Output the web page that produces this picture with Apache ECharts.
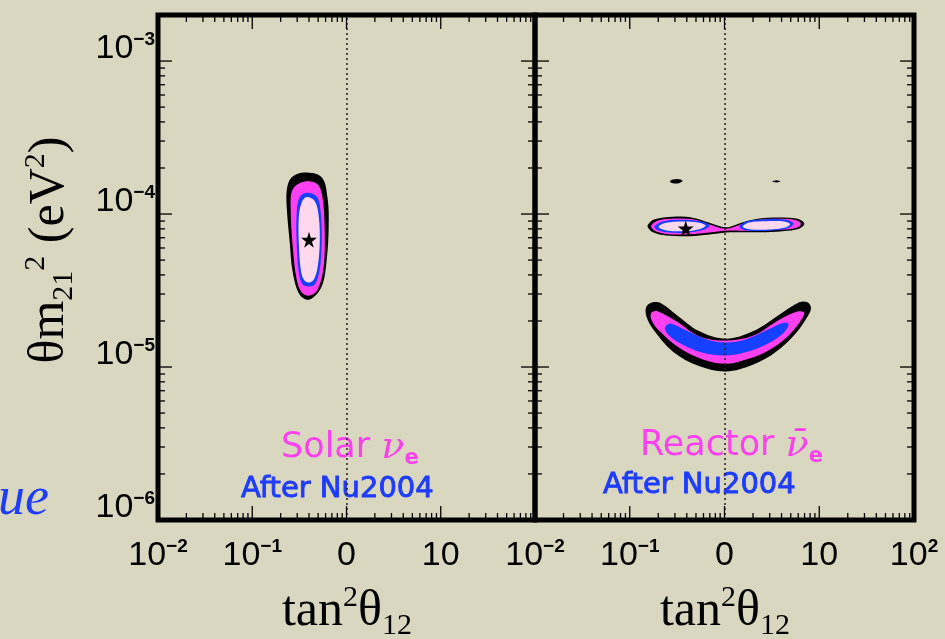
<!DOCTYPE html>
<html><head><meta charset="utf-8">
<script src="https://cdn.jsdelivr.net/npm/echarts@6/dist/echarts.min.js"></script>
<style>html,body{margin:0;padding:0;background:#d9d7c0;}#c{width:945px;height:639px;}</style>
</head><body><div id="c"></div>
<script>
// ---------- axis ranges & tick labels ----------
const X_MIN = 0.01, X_MAX = 100, Y_MIN = 1e-6, Y_MAX = 2e-3;
const xDecades = [0.01, 0.1, 1, 10, 100];
const yDecades = [1e-6, 1e-5, 1e-4, 1e-3];
const xTickLabels = ['{b|10}{s|−2}', '{b|10}{s|−1}', '{b|0}', '{b|10}', '{b|10}{s|2}'];
const yTickLabels = ['{b|10}{s|−6}', '{b|10}{s|−5}', '{b|10}{s|−4}', '{b|10}{s|−3}'];
const minorMultipliers = [2, 3, 4, 5, 6, 7, 8, 9];

// ---------- Solar panel contours [tan^2, dm^2] ----------
const solarBlack = [[0.361,1.87e-4],[0.546,1.74e-4],[0.632,1.25e-4],[0.647,8.3e-5],[0.617,5.05e-5],[0.546,3.36e-5],[0.407,2.76e-5],[0.319,2.97e-5],[0.269,4.15e-5],[0.250,6.5e-5],[0.233,1.07e-4],[0.233,1.45e-4],[0.262,1.74e-4]];
const solarMagenta = [[0.361,1.63e-4],[0.495,1.56e-4],[0.560,1.25e-4],[0.587,7.6e-5],[0.573,4.54e-5],[0.495,3.21e-5],[0.407,2.93e-5],[0.335,3.07e-5],[0.296,3.73e-5],[0.269,6.1e-5],[0.256,1.07e-4],[0.269,1.45e-4]];
const solarBlue = [[0.378,1.38e-4],[0.483,1.30e-4],[0.533,1.02e-4],[0.546,6.5e-5],[0.520,4.34e-5],[0.461,3.46e-5],[0.398,3.36e-5],[0.343,3.46e-5],[0.312,4.15e-5],[0.296,6.5e-5],[0.296,1.02e-4],[0.319,1.29e-4]];
const solarPink = [[0.378,1.29e-4],[0.461,1.21e-4],[0.508,9.6e-5],[0.520,6.5e-5],[0.495,4.54e-5],[0.450,3.73e-5],[0.398,3.56e-5],[0.352,3.73e-5],[0.327,4.34e-5],[0.312,6.5e-5],[0.312,9.6e-5],[0.335,1.19e-4]];
const solarBest = [[0.40, 6.8e-5]];

// ---------- Reactor panel contours ----------
const reactorIslandL = [[0.264,1.63e-4],[0.285,1.68e-4],[0.33,1.69e-4],[0.361,1.65e-4],[0.33,1.59e-4],[0.285,1.59e-4]];
const reactorIslandR = [[3.20,1.63e-4],[3.53,1.66e-4],[3.88,1.63e-4],[3.53,1.61e-4]];
const reactorEightBlack = [[0.156,8.55e-5],[0.183,9.23e-5],[0.286,9.6e-5],[0.463,9.46e-5],[0.695,8.77e-5],[1.04,8.2e-5],[1.56,8.85e-5],[2.34,9.35e-5],[3.79,9.5e-5],[5.91,9.3e-5],[6.95,8.67e-5],[6.15,8.02e-5],[4.11,7.73e-5],[2.34,7.6e-5],[1.44,7.6e-5],[1.04,7.57e-5],[0.695,7.34e-5],[0.429,7.16e-5],[0.243,7.23e-5],[0.176,7.6e-5],[0.156,8.13e-5]];
const reactorEightMagenta = [[0.169,8.45e-5],[0.199,9.08e-5],[0.298,9.35e-5],[0.463,9.23e-5],[0.695,8.55e-5],[1.04,8.02e-5],[1.56,8.63e-5],[2.34,9.18e-5],[3.79,9.3e-5],[5.69,9.12e-5],[6.42,8.63e-5],[5.77,8.13e-5],[3.95,7.88e-5],[2.34,7.78e-5],[1.44,7.78e-5],[1.04,7.78e-5],[0.695,7.57e-5],[0.429,7.38e-5],[0.243,7.41e-5],[0.183,7.78e-5],[0.169,8.2e-5]];
const reactorEightBlueL = [[0.183,8.34e-5],[0.224,8.95e-5],[0.336,9.18e-5],[0.546,8.97e-5],[0.695,8.45e-5],[0.591,7.85e-5],[0.395,7.55e-5],[0.243,7.6e-5],[0.191,7.93e-5]];
const reactorEightPinkL = [[0.203,8.34e-5],[0.243,8.77e-5],[0.350,8.95e-5],[0.524,8.81e-5],[0.631,8.41e-5],[0.546,7.96e-5],[0.379,7.73e-5],[0.253,7.78e-5],[0.207,8.06e-5]];
const reactorEightBlueR = [[1.44,8.34e-5],[1.69,8.95e-5],[2.75,9.23e-5],[4.46,9.18e-5],[5.33,8.67e-5],[4.64,8.06e-5],[2.98,7.78e-5],[1.83,7.78e-5],[1.50,8.02e-5]];
const reactorEightPinkR = [[1.56,8.34e-5],[1.83,8.81e-5],[2.75,8.97e-5],[4.28,8.95e-5],[4.92,8.59e-5],[4.39,8.17e-5],[2.98,7.93e-5],[1.91,7.93e-5],[1.62,8.09e-5]];
const reactorBananaBlack = [[0.150,2.49e-5],[0.176,2.65e-5],[0.216,2.60e-5],[0.310,2.20e-5],[0.546,1.71e-5],[1.04,1.53e-5],[1.99,1.71e-5],[3.79,2.20e-5],[6.15,2.65e-5],[7.53,2.65e-5],[8.18,2.43e-5],[7.53,2.14e-5],[5.69,1.67e-5],[3.50,1.26e-5],[1.99,1.035e-5],[1.04,9.35e-6],[0.546,1.01e-5],[0.286,1.26e-5],[0.183,1.71e-5],[0.150,2.14e-5]];
const reactorBananaMagenta = [[0.169,2.26e-5],[0.199,2.31e-5],[0.310,1.99e-5],[0.546,1.585e-5],[1.04,1.49e-5],[1.99,1.60e-5],[3.79,2.04e-5],[5.91,2.31e-5],[6.95,2.26e-5],[6.15,1.94e-5],[4.46,1.55e-5],[2.75,1.26e-5],[1.69,1.12e-5],[1.04,1.05e-5],[0.591,1.12e-5],[0.336,1.33e-5],[0.207,1.71e-5],[0.169,2.04e-5]];
const reactorBananaBlue = [[0.243,1.87e-5],[0.275,1.92e-5],[0.395,1.73e-5],[0.641,1.52e-5],[1.04,1.445e-5],[1.69,1.52e-5],[2.75,1.73e-5],[4.11,1.94e-5],[4.75,1.91e-5],[4.28,1.69e-5],[2.98,1.44e-5],[1.83,1.27e-5],[1.04,1.19e-5],[0.591,1.24e-5],[0.364,1.40e-5],[0.270,1.57e-5],[0.236,1.75e-5]];
const reactorBest = [[0.39, 8.05e-5]];

// ---------- styling ----------
const C_BLACK = '#000000', C_MAG = '#ff40f0', C_BLUE = '#1640ff', C_PINK = '#ffd8ee';
const STAR = 'path://M50,0 L61,35 L98,35 L68,57 L79,91 L50,70 L21,91 L32,57 L2,35 L39,35 Z';

// minor tick values
const xMinor = [], yMinor = [];
xDecades.forEach(d => minorMultipliers.forEach(m => { if (d * m < X_MAX) xMinor.push(d * m); }));
yDecades.forEach(d => minorMultipliers.forEach(m => { if (d * m < Y_MAX) yMinor.push(d * m); }));
const tickData = [].concat(
  xDecades.map(v => [v, Y_MIN, 0]), xMinor.map(v => [v, Y_MIN, 1]),
  yDecades.map(v => [X_MIN, v, 2]), yMinor.map(v => [X_MIN, v, 3]));

function renderTicks(params, api) {
  const kind = api.value(2);
  const L = (kind % 2 === 0) ? 14 : 7;
  const st = { stroke: '#000', lineWidth: 1.3 };
  if (kind < 2) {
    const v = api.value(0);
    const b = api.coord([v, Y_MIN]), t = api.coord([v, Y_MAX]);
    return { type: 'group', children: [
      { type: 'line', shape: { x1: b[0], y1: b[1], x2: b[0], y2: b[1] - L }, style: st },
      { type: 'line', shape: { x1: t[0], y1: t[1], x2: t[0], y2: t[1] + L }, style: st }] };
  }
  const v = api.value(1);
  const l = api.coord([X_MIN, v]), r = api.coord([X_MAX, v]);
  return { type: 'group', children: [
    { type: 'line', shape: { x1: l[0], y1: l[1], x2: l[0] + L, y2: l[1] }, style: st },
    { type: 'line', shape: { x1: r[0], y1: r[1], x2: r[0] - L, y2: r[1] }, style: st }] };
}

function polySeries(points, color, gi) {
  return { type: 'custom', xAxisIndex: gi, yAxisIndex: gi, data: points, silent: true,
    renderItem: (params, api) => params.dataIndex === 0 ? {
      type: 'polygon', shape: { points: points.map(p => api.coord(p)), smooth: 0.35 },
      style: { fill: color } } : null };
}

function findIdx(arr, v) {
  return arr.findIndex(d => Math.abs(Math.log10(v) - Math.log10(d)) < 1e-6);
}
const labelRich = {
  b: { fontFamily: 'Liberation Sans', fontSize: 34, lineHeight: 38, color: '#000' },
  s: { fontFamily: 'Liberation Sans', fontSize: 19, fontWeight: 'bold', lineHeight: 22, verticalAlign: 'top', color: '#000' }
};
function xAxisDef(gi, skipLast) {
  return { gridIndex: gi, type: 'log', logBase: 10, min: X_MIN, max: X_MAX, splitNumber: 4,
    axisLine: { show: false }, axisTick: { show: false }, splitLine: { show: false },
    axisLabel: { margin: 17, rich: labelRich, formatter: v => {
      const i = findIdx(xDecades, v);
      if (i < 0 || (skipLast && i === xDecades.length - 1)) return '';
      return xTickLabels[i]; } } };
}
function yAxisDef(gi, showLabels) {
  return { gridIndex: gi, type: 'log', logBase: 10, min: Y_MIN, max: Y_MAX,
    axisLine: { show: false }, axisTick: { show: false }, splitLine: { show: false },
    axisLabel: { show: showLabels, margin: 3, verticalAlign: 'middle', padding: [0, 0, 24, 0], rich: labelRich, formatter: v => {
      const i = findIdx(yDecades, v);
      return i < 0 ? '' : yTickLabels[i]; } } };
}
const dotted = { silent: true, symbol: 'none', label: { show: false },
  lineStyle: { type: [2, 3], color: '#222', width: 1.5 }, data: [{ xAxis: 1 }] };

const series = [
  polySeries(solarBlack, C_BLACK, 0), polySeries(solarMagenta, C_MAG, 0),
  polySeries(solarBlue, C_BLUE, 0), polySeries(solarPink, C_PINK, 0),
  { type: 'scatter', xAxisIndex: 0, yAxisIndex: 0, data: solarBest, symbol: STAR, symbolSize: 16, itemStyle: { color: '#000', opacity: 1 }, silent: true, z: 4 },
  polySeries(reactorIslandL, C_BLACK, 1), polySeries(reactorIslandR, C_BLACK, 1),
  polySeries(reactorEightBlack, C_BLACK, 1), polySeries(reactorEightMagenta, C_MAG, 1),
  polySeries(reactorEightBlueL, C_BLUE, 1), polySeries(reactorEightPinkL, C_PINK, 1),
  polySeries(reactorEightBlueR, C_BLUE, 1), polySeries(reactorEightPinkR, C_PINK, 1),
  polySeries(reactorBananaBlack, C_BLACK, 1), polySeries(reactorBananaMagenta, C_MAG, 1),
  polySeries(reactorBananaBlue, C_BLUE, 1),
  { type: 'scatter', xAxisIndex: 1, yAxisIndex: 1, data: reactorBest, symbol: STAR, symbolSize: 16, itemStyle: { color: '#000', opacity: 1 }, silent: true, z: 4 },
  { type: 'custom', xAxisIndex: 0, yAxisIndex: 0, data: tickData, renderItem: renderTicks, silent: true, markLine: dotted, z: 5 },
  { type: 'custom', xAxisIndex: 1, yAxisIndex: 1, data: tickData, renderItem: renderTicks, silent: true, markLine: dotted, z: 5 }
];

const serif = 'Liberation Serif';
const titleRich = {
  t: { fontFamily: serif, fontSize: 50, lineHeight: 58, fill: '#000' },
  sp: { fontFamily: serif, fontSize: 30, lineHeight: 30, verticalAlign: 'top', fill: '#000' },
  sb: { fontFamily: serif, fontSize: 30, lineHeight: 30, verticalAlign: 'bottom', fill: '#000' }
};
const plotRich = {
  a: { fontFamily: 'DejaVu Sans', fontSize: 35, fill: C_MAG, lineHeight: 42 },
  n: { fontFamily: 'DejaVu Serif', fontStyle: 'italic', fontSize: 38, fill: C_MAG, lineHeight: 42 },
  e: { fontFamily: 'DejaVu Sans', fontWeight: 'bold', fontSize: 21, fill: C_MAG, lineHeight: 20, verticalAlign: 'bottom' }
};
const blueText = { fontFamily: 'DejaVu Sans', fontSize: 29, fill: '#1e3cff', stroke: '#1e3cff', lineWidth: 0.9, align: 'left', verticalAlign: 'middle' };
const graphic = [
  { type: 'text', x: 50, y: 250, rotation: Math.PI / 2, silent: true,
    style: { text: '{t|θm}{sb|21}{sp|2}{t| (eV}{sp|2}{t|)}', rich: titleRich, align: 'center', verticalAlign: 'middle' } },
  { type: 'text', x: 347, y: 612, silent: true,
    style: { text: '{t|tan}{sp|2}{t|θ}{sb|12}', rich: titleRich, align: 'center', verticalAlign: 'middle' } },
  { type: 'text', x: 725, y: 612, silent: true,
    style: { text: '{t|tan}{sp|2}{t|θ}{sb|12}', rich: titleRich, align: 'center', verticalAlign: 'middle' } },
  { type: 'text', x: 281, y: 448, silent: true,
    style: { text: '{a|Solar }{n|ν}{e|e}', rich: plotRich, align: 'left', verticalAlign: 'middle' } },
  { type: 'text', x: 241, y: 489, silent: true, style: Object.assign({ text: 'After Nu2004' }, blueText) },
  { type: 'text', x: 640, y: 446, silent: true,
    style: { text: '{a|Reactor }{n|ν̄}{e|e}', rich: plotRich, align: 'left', verticalAlign: 'middle' } },
  { type: 'text', x: 603, y: 485, silent: true, style: Object.assign({ text: 'After Nu2004' }, blueText) },
  { type: 'text', x: -2, y: 500, silent: true,
    style: { text: 'ue', fontFamily: 'Liberation Serif', fontStyle: 'italic', fontSize: 54, fill: '#1e3cff', align: 'left', verticalAlign: 'middle' } }
];

const chart = echarts.init(document.getElementById('c'), null, { renderer: 'canvas' });
chart.setOption({
  backgroundColor: '#d9d7c0',
  animation: false,
  grid: [
    { left: 158, top: 15, width: 377, height: 505, show: true, borderColor: '#000', borderWidth: 5, backgroundColor: 'transparent' },
    { left: 535, top: 15, width: 379, height: 505, show: true, borderColor: '#000', borderWidth: 5, backgroundColor: 'transparent' }
  ],
  xAxis: [xAxisDef(0, true), xAxisDef(1, false)],
  yAxis: [yAxisDef(0, true), yAxisDef(1, false)],
  graphic: graphic,
  series: series
});
</script></body></html>
